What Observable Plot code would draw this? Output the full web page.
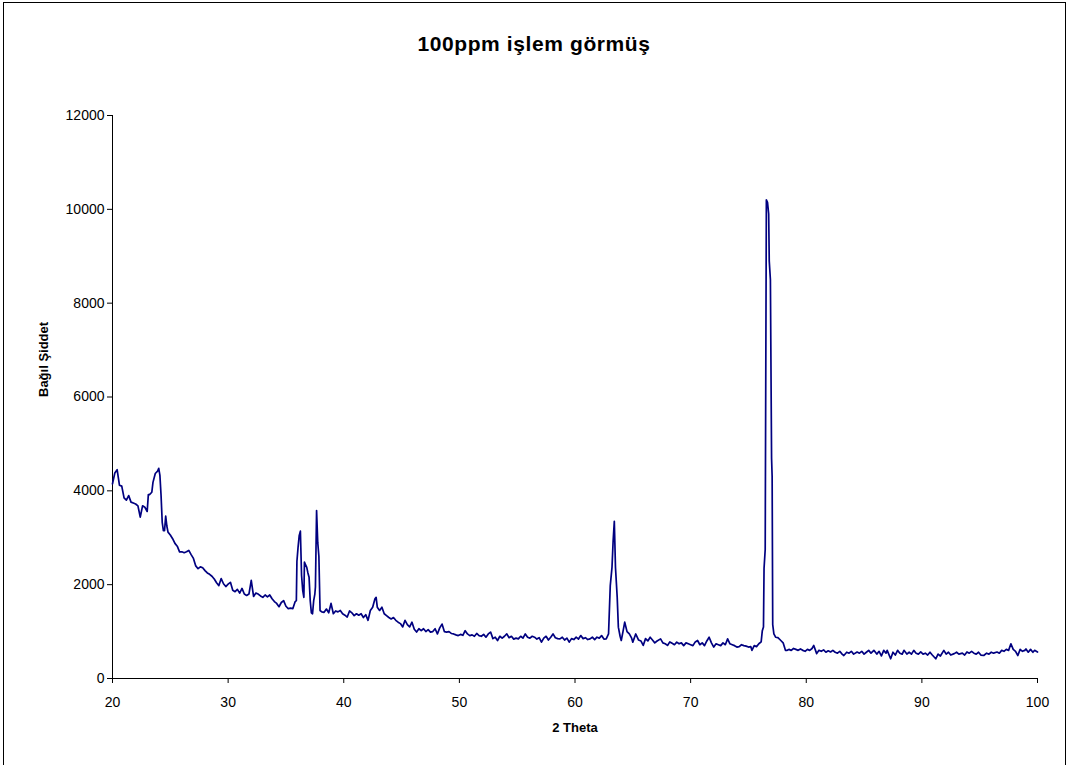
<!DOCTYPE html>
<html><head><meta charset="utf-8">
<script src="https://cdn.jsdelivr.net/npm/d3@7"></script>
<script src="https://cdn.jsdelivr.net/npm/@observablehq/plot@0.6"></script>
<style>
body{margin:0;background:#fff;font-family:"Liberation Sans",Arial,sans-serif;}
#frame{position:absolute;left:3px;top:2px;width:1063px;height:780px;border:1px solid #000;border-bottom:none;box-sizing:border-box;pointer-events:none;}
#title{position:absolute;left:0;top:32px;width:1068px;text-align:center;font-weight:bold;font-size:21px;line-height:24px;letter-spacing:0.6px;color:#000;}
#chart{position:absolute;left:0;top:90px;}
</style></head>
<body>
<div id="title">100ppm işlem görmüş</div>
<div id="chart"></div>
<div id="frame"></div>
<script>
const titleText = "100ppm işlem görmüş";
const xLabel = "2 Theta";
const yLabel = "Bağıl Şiddet";
const xTicks = [20,30,40,50,60,70,80,90,100];
const yTicks = [0,2000,4000,6000,8000,10000,12000];

const theta = [
20.0,20.2,20.4,20.6,20.8,21.0,21.2,21.4,21.6,21.8,
22.0,22.2,22.4,22.6,22.8,23.0,23.1,23.2,23.4,23.5,
23.7,23.9,24.0,24.1,24.2,24.3,24.4,24.5,24.6,24.7,
24.8,25.0,25.2,25.4,25.6,25.8,26.0,26.2,26.4,26.6,
26.8,27.0,27.2,27.4,27.6,27.8,28.0,28.2,28.4,28.6,
28.8,29.0,29.2,29.4,29.6,29.8,30.0,30.2,30.4,30.6,
30.8,31.0,31.2,31.4,31.6,31.8,32.0,32.2,32.4,32.6,
32.8,33.0,33.2,33.4,33.6,33.8,34.0,34.2,34.4,34.6,
34.8,35.0,35.2,35.4,35.6,35.8,35.9,35.95,36.05,36.15,
36.25,36.35,36.45,36.55,36.6,36.7,36.8,36.9,37.0,37.1,
37.2,37.3,37.4,37.5,37.55,37.65,37.75,37.85,37.95,38.1,
38.3,38.5,38.7,38.9,39.1,39.3,39.5,39.7,39.9,40.1,
40.3,40.5,40.7,40.9,41.1,41.3,41.5,41.7,41.9,42.1,
42.3,42.5,42.7,42.8,42.9,43.1,43.3,43.5,43.7,43.9,
44.1,44.3,44.5,44.7,44.9,45.1,45.3,45.5,45.7,45.9,
46.1,46.3,46.5,46.7,46.9,47.1,47.3,47.5,47.7,47.9,
48.1,48.3,48.5,48.7,48.9,49.1,49.3,49.5,49.7,49.9,
50.1,50.3,50.5,50.7,50.9,51.1,51.3,51.5,51.7,51.9,
52.1,52.3,52.5,52.7,52.9,53.1,53.3,53.5,53.7,53.9,
54.1,54.3,54.5,54.7,54.9,55.1,55.3,55.5,55.7,55.9,
56.1,56.3,56.5,56.7,56.9,57.1,57.3,57.5,57.7,57.9,
58.1,58.3,58.5,58.7,58.9,59.1,59.3,59.5,59.7,59.9,
60.1,60.3,60.5,60.7,60.9,61.1,61.3,61.5,61.7,61.9,
62.1,62.3,62.5,62.7,62.9,63.05,63.2,63.3,63.4,63.5,
63.65,63.75,63.9,64.0,64.15,64.3,64.5,64.7,64.9,65.0,
65.25,65.5,65.7,65.9,66.1,66.3,66.5,66.7,66.9,67.1,
67.4,67.6,67.8,68.0,68.2,68.4,68.6,68.8,69.0,69.2,
69.4,69.6,69.8,70.0,70.2,70.4,70.6,70.8,71.0,71.2,
71.4,71.6,71.8,72.0,72.2,72.4,72.6,72.8,73.0,73.2,
73.4,73.6,73.8,74.0,74.2,74.4,74.6,74.8,75.0,75.2,
75.3,75.5,75.7,75.9,76.1,76.2,76.3,76.35,76.45,76.55,
76.65,76.75,76.8,76.9,77.0,77.05,77.1,77.2,77.35,77.55,
77.8,78.0,78.2,78.35,78.5,78.7,78.9,79.1,79.3,79.5,
79.7,79.9,80.1,80.3,80.5,80.65,80.9,81.1,81.3,81.5,
81.7,81.9,82.1,82.3,82.5,82.7,82.9,83.1,83.25,83.5,
83.7,83.9,84.1,84.4,84.6,84.8,85.0,85.2,85.4,85.6,
85.85,86.1,86.3,86.5,86.7,86.9,87.0,87.3,87.5,87.7,
87.9,88.1,88.3,88.45,88.7,88.9,89.1,89.3,89.5,89.7,
89.9,90.1,90.3,90.5,90.7,90.9,91.2,91.4,91.6,91.9,
92.1,92.3,92.5,92.8,93.0,93.2,93.5,93.7,93.9,94.1,
94.3,94.5,94.7,94.9,95.1,95.35,95.6,95.8,96.0,96.2,
96.5,96.7,96.9,97.1,97.3,97.5,97.7,97.9,98.1,98.3,
98.5,98.7,98.9,99.0,99.2,99.4,99.6,99.75,100.0
];

const intensity = [
4150,4380,4450,4120,4100,3850,3800,3900,3760,3740,
3720,3680,3440,3680,3650,3560,3920,3920,3970,4180,
4370,4420,4480,4330,3900,3330,3150,3150,3460,3250,
3120,3060,2980,2880,2820,2700,2700,2680,2700,2730,
2640,2560,2400,2340,2380,2360,2300,2250,2220,2180,
2120,2040,1980,2130,2020,1960,2010,2050,1880,1850,
1900,1820,1920,1800,1770,1800,2090,1750,1820,1800,
1760,1730,1780,1740,1780,1700,1640,1600,1530,1620,
1660,1540,1490,1500,1490,1640,1660,2500,2800,3050,
3140,2200,1880,1730,2480,2420,2370,2250,2160,1660,
1400,1380,1660,1800,1950,3580,2900,2600,1450,1420,
1410,1480,1400,1600,1380,1440,1420,1450,1380,1350,
1310,1440,1400,1340,1380,1350,1380,1300,1360,1240,
1450,1520,1700,1730,1520,1450,1520,1380,1340,1300,
1270,1300,1240,1200,1170,1100,1240,1150,1100,1200,
1050,990,1060,1020,1060,1000,1040,990,1000,1060,
950,1080,1160,1000,990,1000,960,950,930,915,
940,920,1020,950,915,930,900,960,915,900,
940,880,950,990,850,880,810,900,860,900,
950,870,900,840,860,845,900,860,950,880,
860,900,880,840,870,775,860,900,820,880,
950,870,850,845,880,820,860,775,850,830,
880,840,915,850,870,830,845,880,830,880,
860,915,840,845,950,1980,2370,2940,3350,2370,
1730,1095,900,810,1000,1200,1000,950,860,775,
950,820,800,705,850,800,880,820,760,800,
845,760,740,705,780,750,720,775,740,760,
700,760,740,720,700,780,810,720,760,700,
800,880,760,670,740,720,700,760,720,845,
740,720,700,670,680,720,700,690,670,680,
600,700,680,740,780,1020,1100,2350,2750,10200,
10150,9900,8900,8500,4700,4300,1150,950,880,870,
810,760,600,600,620,600,640,620,600,630,
600,580,620,600,640,705,530,600,580,610,
560,590,565,600,560,540,580,520,490,560,
540,580,520,565,540,580,520,560,600,540,
600,520,580,480,600,540,600,420,560,500,
600,540,520,600,520,560,520,600,540,520,
565,520,540,500,560,500,420,520,480,600,
520,560,500,530,560,520,540,500,565,540,
580,540,520,560,500,490,540,520,560,540,
565,540,600,580,620,600,740,620,580,490,
620,580,600,630,560,620,560,600,565
];

document.getElementById("title").textContent = titleText;
const data = theta.map((t, i) => ({theta: t, value: intensity[i]}));

const chart = Plot.plot({
  width: 1068,
  height: 675,
  marginTop: 25,
  marginBottom: 87,
  marginLeft: 112,
  marginRight: 31,
  style: {fontFamily: '"Liberation Sans", Arial, sans-serif', fontSize: "14px", color: "#000", background: "transparent"},
  x: {domain: [20, 100]},
  y: {domain: [0, 12000]},
  marks: [
    Plot.axisX({ticks: xTicks, tickSize: 5, tickPadding: 14, tickFormat: d => String(d), label: null, stroke: "#000"}),
    Plot.axisY({ticks: yTicks, tickSize: 5, tickPadding: 3, tickFormat: d => String(d), label: null, stroke: "#000"}),
    Plot.ruleX([20], {stroke: "#000", strokeWidth: 1}),
    Plot.ruleY([0], {stroke: "#000", strokeWidth: 1}),
    Plot.line(data, {x: "theta", y: "value", stroke: "#000080", strokeWidth: 1.7}),
    Plot.text([xLabel], {frameAnchor: "bottom", dy: 53, text: d => d, fontWeight: "bold", fontSize: 13, fill: "#000"}),
    Plot.text([yLabel], {frameAnchor: "left", dx: -69, rotate: -90, text: d => d, fontWeight: "bold", fontSize: 13, fill: "#000"})
  ]
});
document.getElementById("chart").appendChild(chart);
</script>
</body></html>
